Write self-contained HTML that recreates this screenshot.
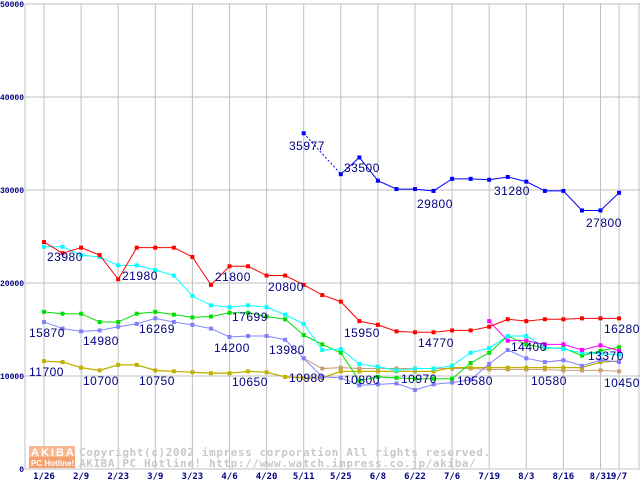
<!DOCTYPE html>
<html><head><meta charset="utf-8"><style>
body{margin:0;background:#fff}
svg{display:block}
.tk{font-family:"Liberation Mono","DejaVu Sans Mono",monospace;font-size:8px;font-weight:bold;fill:#000080}
.xt{font-family:"DejaVu Sans Mono","Liberation Mono",monospace;font-size:9px;font-weight:bold;fill:#000080}
.lb{font-family:"Liberation Sans",sans-serif;font-size:12px;letter-spacing:0.5px;fill:#000080}
.cp{font-family:"DejaVu Sans Mono","Liberation Mono",monospace;font-size:11px;font-weight:bold;fill:#c8c8c8;letter-spacing:0.6px}
</style></head><body>
<svg id="chart" width="640" height="480" viewBox="0 0 640 480" xmlns="http://www.w3.org/2000/svg">
<g id="grid"></g>
<g id="wm">
<rect x="29" y="446" width="46" height="11" fill="#f8b890"/>
<rect x="29" y="457" width="46" height="11" fill="#f4a070"/>
<text x="31" y="456" font-family="Liberation Sans,sans-serif" font-size="11" font-weight="bold" fill="#fff" letter-spacing="2">AKIBA</text>
<text x="31" y="466" font-family="Liberation Sans,sans-serif" font-size="8" font-weight="bold" fill="#fff">PC Hotline!</text>
<text class="cp" x="79" y="456">Copyright(c)2002 impress corporation All rights reserved.</text>
<text class="cp" x="79" y="467">AKIBA PC Hotline!  http://www.watch.impress.co.jp/akiba/</text>
</g>
<g id="series"></g>
<g id="labels"></g>
</svg>
<script>
const categories=["1/26","","2/9","","2/23","","3/9","","3/23","","4/6","","4/20","","5/11","","5/25","","6/8","","6/22","","7/6","","7/19","","8/3","","8/16","","8/31","9/7"];
const yTicks=[0,10000,20000,30000,40000,50000];
const red=[24400,23200,23800,23000,20400,23800,23800,23800,22800,19800,21800,21800,20800,20800,19800,18700,18000,15900,15500,14800,14700,14700,14900,14900,15300,16100,15900,16100,16100,16200,16200,16200];
const cyan=[23900,23900,23000,22800,21900,21900,21400,20800,18600,17600,17400,17600,17400,16600,15600,12800,12900,11300,11000,10600,10800,10800,11100,12500,13000,14300,14300,13100,12900,12500,12400,12300];
const green=[16900,16700,16700,15800,15800,16700,16900,16600,16300,16400,16800,16800,16400,16100,14400,13400,12500,9500,9900,9800,9700,9700,9700,11400,12500,14300,13400,13000,13000,12200,12700,13100];
const lavender=[15800,15100,14800,14900,15300,15600,16200,15800,15500,15100,14200,14300,14300,13900,11900,9900,9800,9000,9100,9200,8500,9100,9300,9600,11300,12800,11900,11500,11700,11100,11700,11500];
const olive=[11600,11500,10900,10600,11200,11200,10600,10500,10400,10300,10300,10500,10400,9900,9800,9800,10500,10500,10500,10500,10500,10500,10900,10900,10900,10900,10900,10900,10900,10900,11500,11600];
const tan=[null,null,null,null,null,null,null,null,null,null,null,null,null,null,11900,10800,10900,10800,10800,10800,10800,10800,10800,10800,10700,10700,10700,10700,10600,10600,10600,10500];
const magenta=[null,null,null,null,null,null,null,null,null,null,null,null,null,null,null,null,null,null,null,null,null,null,null,null,15900,13800,13800,13400,13400,12800,13300,12700];
const blue=[null,null,null,null,null,null,null,null,null,null,null,null,null,null,36100,null,31700,33500,31000,30100,30100,29900,31200,31200,31100,31400,30900,29900,29900,27800,27800,29700];
const valueLabels=["23980","21980","21800","20800","35977","33500","29800","31280","27800","15870","14980","16269","17699","14200","13980","15950","14770","14400","13370","16280","11700","10700","10750","10650","10980","10800","10970","10580","10580","10450"];
// label anchor placement (layout, pixels): left x and vertical centre
const labelX=[47,122,215,268,289,344,417,494,586,29,83,139,232,214,269,344,418,511,588,604,29,83,139,232,289,344,401,457,531,604];
const labelCY=[256,275,276,286,145,167,203,190,222,332,340,328,316,347,349,332,342,346,355,328,371,380,380,381,377,379,378,380,380,382];

const NS="http://www.w3.org/2000/svg";
const X0=44,DX=18.55,Y0=469,YS=93/10000;
const x=i=>X0+i*DX;
const y=v=>Y0-v*YS;
function mk(t,a,p){const e=document.createElementNS(NS,t);for(const k in a)e.setAttribute(k,a[k]);p.appendChild(e);return e;}
const grid=document.getElementById('grid');
const ya=mk('line',{x1:25,y1:4,x2:25,y2:Y0,stroke:'#c0c0c0'},grid);


for(let i=0;i<categories.length;i++){
  if(categories[i]==="")continue;
  const l=mk('line',{x1:x(i),y1:4,x2:x(i),y2:Y0,stroke:'#c0c0c0'},grid);
  
  
  const t=mk('text',{x:x(i),y:479,'text-anchor':'middle',class:'xt'},grid);
  t.textContent=categories[i];
  
  
}
mk('line',{x1:639,y1:4,x2:639,y2:Y0,stroke:'#c0c0c0'},grid);
yTicks.forEach(v=>{
  const l=mk('line',{x1:25,y1:y(v),x2:640,y2:y(v),stroke:'#c0c0c0'},grid);
  
  
  const t=mk('text',{x:24,y:Math.max(7,y(v)+3),'text-anchor':'end',class:'tk'},grid);
  t.textContent=String(v);
  
  
});
const ser=document.getElementById('series');
function draw(arr,color,name,sw){
  const g=mk('g',{},ser);
  
  
  let seg=[];
  const flush=()=>{if(seg.length>1)mk('polyline',{points:seg.join(' '),fill:'none',stroke:color,'stroke-width':sw||1},g);seg=[];};
  arr.forEach((v,i)=>{if(v==null){flush();return;}seg.push(x(i)+','+y(v));});
  flush();
  arr.forEach((v,i)=>{if(v==null)return;const r=mk('rect',{x:x(i)-2,y:y(v)-2,width:4,height:4,fill:color},g);
    
    });
}
draw(tan,'#c8a078','series-tan');
draw(olive,'#c0b000','series-olive',1.3);
draw(lavender,'#8080ff','series-lavender');
draw(green,'#00e000','series-green');
draw(cyan,'#00ffff','series-cyan');
draw(magenta,'#ff00ff','series-magenta');
draw(red,'#ff0000','series-red');
draw(blue,'#0000ff','series-blue');
const d=mk('line',{x1:x(14),y1:y(blue[14]),x2:x(16),y2:y(blue[16]),stroke:'#0000ff','stroke-dasharray':'2,2'},ser);


const lb=document.getElementById('labels');
valueLabels.forEach((s,k)=>{
  const t=mk('text',{x:labelX[k],y:labelCY[k]+5,class:'lb'},lb);
  t.textContent=s;
  
  
});
</script>
</body></html>
